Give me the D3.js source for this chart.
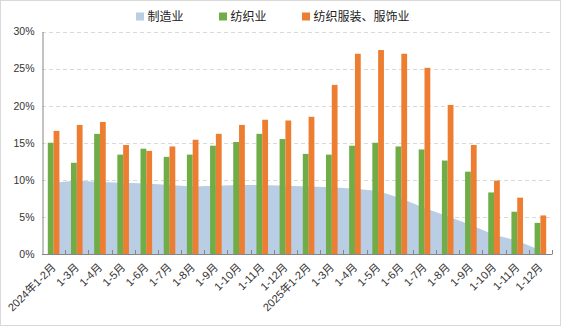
<!DOCTYPE html>
<html><head><meta charset="utf-8">
<script src="https://cdn.jsdelivr.net/npm/d3@7"></script>
<style>body{margin:0;background:#fff}svg{display:block}</style>
</head><body>
<svg id="c" width="561" height="326"></svg>
<script>
const categories = ["2024年1-2月","1-3月","1-4月","1-5月","1-6月","1-7月","1-8月","1-9月","1-10月","1-11月","1-12月",
  "2025年1-2月","1-3月","1-4月","1-5月","1-6月","1-7月","1-8月","1-9月","1-10月","1-11月","1-12月"];
const manufacturing = [9.6,9.9,9.7,9.6,9.5,9.3,9.1,9.2,9.3,9.3,9.2, 9.1,9.0,8.8,8.5,7.5,6.2,5.1,3.9,2.6,1.8,0.5];
const textile = [15.0,12.3,16.2,13.4,14.2,13.1,13.4,14.6,15.1,16.2,15.5, 13.5,13.4,14.6,15.0,14.5,14.1,12.6,11.1,8.3,5.7,4.2];
const apparel = [16.6,17.4,17.8,14.7,13.9,14.5,15.4,16.2,17.4,18.1,18.0, 18.5,22.8,27.0,27.5,27.0,25.1,20.1,14.7,9.9,7.6,5.2];
const yTicks = [0,5,10,15,20,25,30];
const seriesNames = ["制造业","纺织业","纺织服装、服饰业"];
const colors = ["#B9CDE5","#70AD47","#ED7D31"];

const svg = d3.select("#c");
const W = 561, H = 326;
svg.append("rect").attr("x",0.5).attr("y",0.5).attr("width",W-1).attr("height",H-1)
  .attr("fill","#fff").attr("stroke","#D9D9D9");

const x = d3.scaleBand().domain(categories.map((d,i)=>i)).range([42,552]).padding(0);
const bw = x.bandwidth();
const sub = d3.scaleBand().domain(["t","a"]).range([bw*0.25, bw*0.75]).padding(0);
const y = d3.scaleLinear().domain([0,30]).range([254,31.5]);

// gridlines
svg.append("g").selectAll("line").data(yTicks.filter(d=>d>0)).join("line")
  .attr("x1",42).attr("x2",552).attr("y1",d=>Math.round(y(d))+0.5).attr("y2",d=>Math.round(y(d))+0.5)
  .attr("stroke","#D9D9D9").attr("stroke-width",1.2).attr("stroke-dasharray","4,3");

// area
const area = d3.area().x((d,i)=>x(i)+bw/2).y0(y(0)).y1(d=>y(d));
svg.append("path").datum(manufacturing).attr("d",area).attr("fill",colors[0]);

// bars
const g = svg.append("g");
g.selectAll(".t").data(textile).join("rect").attr("class","t")
  .attr("x",(d,i)=>x(i)+sub("t")).attr("width",sub.bandwidth())
  .attr("y",d=>y(d)).attr("height",d=>y(0)-y(d)).attr("fill",colors[1]);
g.selectAll(".a").data(apparel).join("rect").attr("class","a")
  .attr("x",(d,i)=>x(i)+sub("a")).attr("width",sub.bandwidth())
  .attr("y",d=>y(d)).attr("height",d=>y(0)-y(d)).attr("fill",colors[2]);

// y axis
const yAxis = d3.axisLeft(y).tickValues(yTicks).tickFormat(d=>d+"%").tickSize(0).tickPadding(8);
const ya = svg.append("g").attr("transform","translate(42.5,0)").call(yAxis);
ya.select(".domain").attr("stroke","#868686");
ya.selectAll("text").attr("font-family","Liberation Sans, Arial, sans-serif").attr("font-size","10.5px").attr("fill","#333");

// x axis
const xa = svg.append("g");
xa.append("line").attr("x1",42).attr("x2",552.5).attr("y1",254.5).attr("y2",254.5).attr("stroke","#868686");
const bounds = d3.range(categories.length+1).map(i=> i<categories.length ? x(i) : x(i-1)+bw);
xa.selectAll(".tk").data(bounds.slice(1)).join("line").attr("class","tk")
  .attr("x1",d=>Math.round(d)+0.5).attr("x2",d=>Math.round(d)+0.5).attr("y1",254).attr("y2",250)
  .attr("stroke","#868686");
xa.selectAll("text").data(categories).join("text")
  .attr("transform",(d,i)=>`translate(${x(i)+bw/2+3},${268}) rotate(-45)`)
  .attr("text-anchor","end")
  .attr("font-family","Liberation Sans, 'Noto Sans CJK SC', sans-serif").attr("font-size","11px").attr("fill","#333")
  .text(d=>d);

// legend
const legX = [136,219,302];
const lg = svg.append("g");
seriesNames.forEach((n,i)=>{
  lg.append("rect").attr("x",legX[i]).attr("y",12.5).attr("width",8).attr("height",8).attr("fill",colors[i]);
  lg.append("text").attr("x",legX[i]+11.5).attr("y",21).attr("font-family","'Noto Sans CJK SC', sans-serif")
    .attr("font-size","12px").attr("fill","#222").text(n);
});
</script>
</body></html>
